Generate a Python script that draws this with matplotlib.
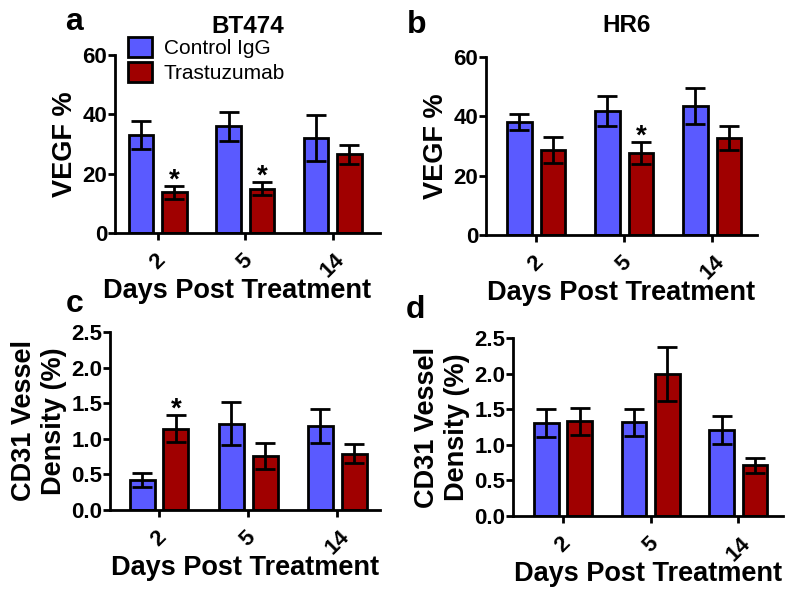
import matplotlib
matplotlib.use("Agg")
import matplotlib.pyplot as plt
from matplotlib.patches import Patch
import numpy as np

plt.rcParams['font.family'] = ['Liberation Sans', 'DejaVu Sans']
plt.rcParams['font.weight'] = 'bold'

days = ['2', '5', '14']
groups = ['Control IgG', 'Trastuzumab']
blue = '#5a5aff'
red = '#a00000'

# panel a: BT474 VEGF
a_ctrl = [33.1, 35.9, 32.0]
a_ctrl_err = [4.8, 4.8, 7.6]
a_tras = [13.7, 14.9, 26.6]
a_tras_err = [2.2, 2.2, 3.2]
a_stars = [0, 1]

# panel b: HR6 VEGF
b_ctrl = [38.1, 41.8, 43.4]
b_ctrl_err = [2.8, 5.0, 6.0]
b_tras = [28.7, 27.6, 32.7]
b_tras_err = [4.5, 3.6, 4.2]
b_stars = [1]

# panel c: BT474 CD31
c_ctrl = [0.42, 1.21, 1.18]
c_ctrl_err = [0.10, 0.30, 0.24]
c_tras = [1.14, 0.76, 0.79]
c_tras_err = [0.19, 0.18, 0.13]
c_stars = [0]

# panel d: HR6 CD31
d_ctrl = [1.31, 1.32, 1.21]
d_ctrl_err = [0.20, 0.19, 0.20]
d_tras = [1.33, 2.00, 0.71]
d_tras_err = [0.19, 0.38, 0.10]
d_stars = []


def panel(ax, ctrl, ctrl_err, tras, tras_err, stars, ymax, yticks, ylabel, xlim):
    x = np.arange(len(days))
    w = 0.28
    ekw = dict(elinewidth=2, capthick=2, ecolor='black')
    ax.bar(x - 0.19, ctrl, w, yerr=ctrl_err, color=blue, edgecolor='black',
           linewidth=2, capsize=7, error_kw=ekw)
    ax.bar(x + 0.19, tras, w, yerr=tras_err, color=red, edgecolor='black',
           linewidth=2, capsize=7, error_kw=ekw)
    # significance marks just above the error bar
    for i in stars:
        ax.annotate('*', (x[i] + 0.19, tras[i] + tras_err[i]), xytext=(0, 4),
                    textcoords='offset points', ha='center', va='center',
                    fontsize=20, fontweight='bold')
    ax.set_xlim(*xlim)
    ax.set_ylim(0, ymax)
    ax.set_yticks(yticks)
    ax.set_xticks(x)
    ax.set_xticklabels(days, rotation=45, fontsize=16, fontweight='bold')
    for lab in ax.get_yticklabels():
        lab.set_fontsize(16)
        lab.set_fontweight('bold')
    ax.spines['top'].set_visible(False)
    ax.spines['right'].set_visible(False)
    ax.spines['left'].set_linewidth(2)
    ax.spines['bottom'].set_linewidth(2)
    ax.tick_params(width=2, length=5, direction='out')
    ax.tick_params(axis='y', pad=0.5)
    ax.tick_params(axis='x', pad=7)
    ax.set_ylabel(ylabel, fontsize=19.5, fontweight='bold', labelpad=3,
                  linespacing=1.2)
    ax.set_xlabel('Days Post Treatment', fontsize=19.5, fontweight='bold',
                  labelpad=-3)


fig = plt.figure(figsize=(7.92, 5.93), dpi=100)
ax_a = fig.add_axes([0.1452, 0.6071, 0.3346, 0.3002])
ax_b = fig.add_axes([0.6136, 0.6037, 0.3422, 0.3002])
ax_c = fig.add_axes([0.1389, 0.1400, 0.3409, 0.3002])
ax_d = fig.add_axes([0.6477, 0.1298, 0.3409, 0.3002])

panel(ax_a, a_ctrl, a_ctrl_err, a_tras, a_tras_err, a_stars, 60, [0, 20, 40, 60],
      'VEGF %', (-0.49, 2.54))
panel(ax_b, b_ctrl, b_ctrl_err, b_tras, b_tras_err, b_stars, 60, [0, 20, 40, 60],
      'VEGF %', (-0.57, 2.51))
cd_ticks = [0.0, 0.5, 1.0, 1.5, 2.0, 2.5]
panel(ax_c, c_ctrl, c_ctrl_err, c_tras, c_tras_err, c_stars, 2.5, cd_ticks,
      'CD31 Vessel\nDensity (%)', (-0.55, 2.48))
panel(ax_d, d_ctrl, d_ctrl_err, d_tras, d_tras_err, d_stars, 2.5, cd_ticks,
      'CD31 Vessel\nDensity (%)', (-0.57, 2.51))
for ax in (ax_c, ax_d):
    ax.set_yticklabels(['%.1f' % t for t in cd_ticks], fontsize=16, fontweight='bold')

# x label sits a little left of centre in the top-left panel
ax_a.xaxis.label.set_x(0.46)

ax_a.set_title('BT474', fontsize=17.5, fontweight='bold', pad=16)
ax_b.set_title('HR6', fontsize=17.5, fontweight='bold', pad=18, x=0.52)

fig.text(0.093, 0.963, 'a', fontsize=23, fontweight='bold', ha='center', va='center')
fig.text(0.526, 0.958, 'b', fontsize=23, fontweight='bold', ha='center', va='center')
fig.text(0.094, 0.487, 'c', fontsize=23, fontweight='bold', ha='center', va='center')
fig.text(0.524, 0.478, 'd', fontsize=23, fontweight='bold', ha='center', va='center')

handles = [Patch(facecolor=blue, edgecolor='black', linewidth=2),
           Patch(facecolor=red, edgecolor='black', linewidth=2)]
fig.legend(handles, groups, loc='upper left', bbox_to_anchor=(0.162, 0.937),
           frameon=False, prop={'size': 15, 'weight': 'normal'},
           handlelength=1.15, handleheight=1.1, handletextpad=0.55,
           labelspacing=0.15, borderpad=0, borderaxespad=0)

fig.savefig('out.png', dpi=100)
